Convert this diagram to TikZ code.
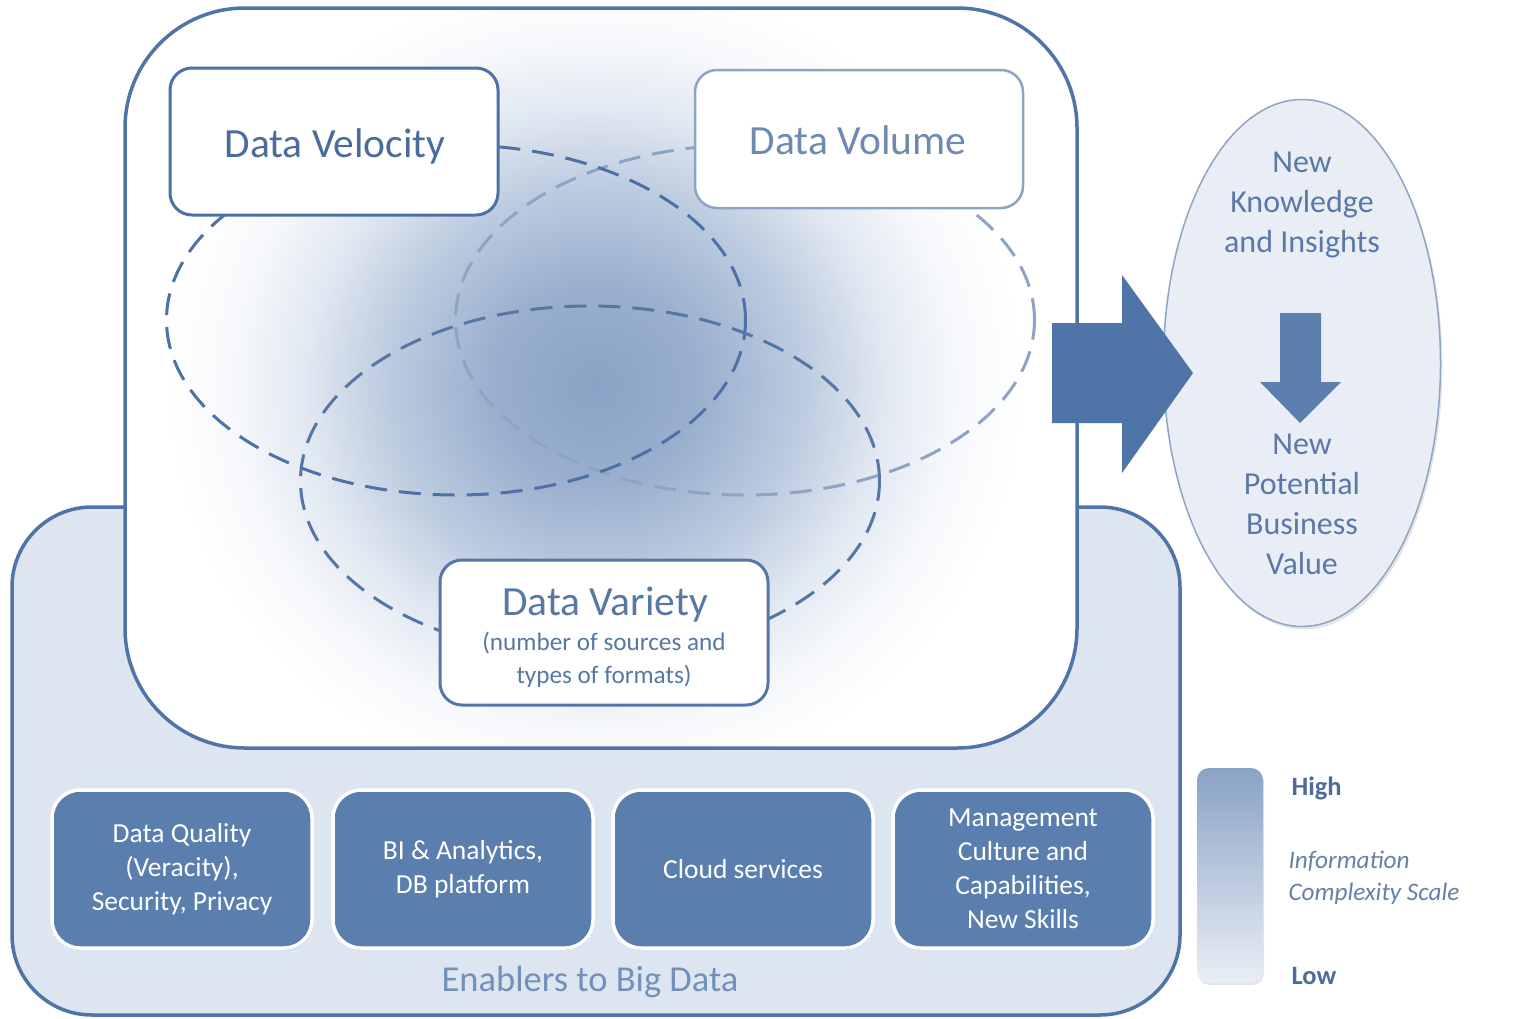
\documentclass[tikz,border=0pt]{standalone}
\usepackage{fontspec}
\setmainfont{Carlito}
\usetikzlibrary{shapes.geometric,shadows}
\definecolor{mainblue}{HTML}{4F74A8}
\definecolor{boxfill}{HTML}{5A7EAE}
\definecolor{enfill}{HTML}{DDE5F0}
\definecolor{ellfill}{HTML}{E9EEF6}
\definecolor{ellstroke}{HTML}{8EA5C6}
\definecolor{shc}{HTML}{8AA2C5}
\definecolor{shm}{HTML}{9AAFCE}
\definecolor{shl}{HTML}{BCCBDF}
\definecolor{shx}{HTML}{E2E9F2}
\definecolor{shy}{HTML}{F6F8FB}
\definecolor{veltext}{HTML}{4B6B9C}
\definecolor{voltext}{HTML}{6F89AF}
\definecolor{vartext}{HTML}{5877A3}
\definecolor{entext}{HTML}{7390B8}
\definecolor{newtext}{HTML}{5B79A6}
\definecolor{hightext}{HTML}{4D6C99}
\definecolor{infotext}{HTML}{6580A9}
\definecolor{velstroke}{HTML}{4D71A6}
\definecolor{volstroke}{HTML}{8DA4C5}
\definecolor{varstroke}{HTML}{5676A6}
\definecolor{scaletop}{HTML}{8AA2C5}
\definecolor{scalebot}{HTML}{EAEFF5}
\pgfdeclareradialshading{glow}{\pgfpoint{0bp}{0bp}}{color(0bp)=(shc); color(6bp)=(shm); color(12bp)=(shl); color(17bp)=(shx); color(21bp)=(shy); color(25bp)=(white); color(50bp)=(white)}
\begin{document}
\begin{tikzpicture}[x=1pt,y=-1pt,
  databox/.style={draw, fill=white, line width=3, rounded corners=22, minimum width=328, minimum height=145, inner sep=0},
  dataell/.style={ellipse, dashed, dash pattern=on 22pt off 12pt, line width=3, minimum width=579, minimum height=350, inner sep=0},
  enbox/.style={draw=white, line width=3.5, fill=boxfill, rounded corners=28, minimum width=260, minimum height=158, text=white, align=center, font=\fontsize{27.5}{34}\selectfont, drop shadow={opacity=0.25, shadow xshift=1pt, shadow yshift=-2pt}},
  bigtext/.style={font=\fontsize{41.5}{48}\selectfont, anchor=base},
  newstyle/.style={align=center, text=newtext, font=\fontsize{32}{40}\selectfont},
]
\useasboundingbox (0,0) rectangle (1517,1018);
\fill[white] (0,0) rectangle (1517,1018);

% enablers box
\node[draw=mainblue, line width=3.5, fill=enfill, rounded corners=80, minimum width=1168, minimum height=508, inner sep=0] (enablers) at (596,761) {};

% top box with glow
\fill[white, rounded corners=120] (125,8) rectangle (1077,748);
\begin{scope}
  \clip[rounded corners=120] (125,8) rectangle (1077,748);
  \shade[shading=glow] (595,385) ellipse [x radius=430, y radius=410];
\end{scope}
\node[draw=mainblue, line width=3.5, rounded corners=120, minimum width=952, minimum height=740, inner sep=0] (top) at (601,378) {};

% dashed ellipses
\node[dataell, draw=volstroke] (evol) at (745,320) {};
\node[dataell, draw=velstroke] (evel) at (456,320) {};
\node[dataell, draw=varstroke] (evar) at (590,481) {};

% data boxes
\node[databox, draw=velstroke, minimum height=147] (vel) at (334,141.5) {};
\node[bigtext, text=veltext] (veltxt) at (335,157) {Data Velocity};
\node[databox, draw=volstroke, line width=2.5, minimum height=138] (vol) at (859,139) {};
\node[bigtext, text=voltext] (voltxt) at (858,154) {Data Volume};
\node[databox, draw=varstroke] (var) at (604,632.5) {};
\node[bigtext, text=vartext] (vartxt) at (605,615) {Data Variety};
\node[anchor=base, text=vartext, font=\fontsize{25.2}{33}\selectfont] (varsub) at (604,650) {(number of sources and};
\node[anchor=base, text=vartext, font=\fontsize{25.2}{33}\selectfont] (varsub2) at (604,683) {types of formats)};

% enabler boxes
\node[enbox] (b1) at (182,869) {Data Quality\\(Veracity),\\Security, Privacy};
\node[enbox] (b2) at (463,869) {BI \& Analytics,\\DB platform};
\node[enbox] (b3) at (743,869) {Cloud services};
\node[enbox] (b4) at (1023,869) {Management\\Culture and\\Capabilities,\\New Skills};
\node[text=entext, font=\fontsize{36.5}{42}\selectfont] (entxt) at (590,982) {Enablers to Big Data};

% outcome ellipse
\node[ellipse, draw=ellstroke, line width=1.5, fill=ellfill, minimum width=277, minimum height=527, inner sep=0, drop shadow={opacity=0.2, shadow xshift=2pt, shadow yshift=-3pt}] (out) at (1302,363) {};
\node[newstyle] (know) at (1302,205) {New\\Knowledge\\and Insights};
\node[newstyle] (pot) at (1302,504) {New\\Potential\\Business\\Value};

% big arrow
\fill[mainblue] (1052,323) -- (1122,323) -- (1122,275) -- (1193,373) -- (1122,473) -- (1122,423) -- (1052,423) -- cycle;
% down arrow
\fill[mainblue!92!white] (1280,313) -- (1321,313) -- (1321,382) -- (1341,382) -- (1300,423) -- (1260,382) -- (1280,382) -- cycle;

% scale
\node[rounded corners=12, minimum width=66, minimum height=215, inner sep=0, top color=scaletop, bottom color=scalebot, drop shadow={opacity=0.2, shadow xshift=1pt, shadow yshift=-2pt}] (scale) at (1230,875.5) {};
\node[anchor=west, text=hightext, font=\fontsize{26.5}{30}\selectfont\bfseries] (high) at (1288,788) {High};
\node[anchor=west, text=infotext, align=left, font=\fontsize{25.2}{32}\selectfont\itshape] (info) at (1285,878) {Information\\Complexity Scale};
\node[anchor=west, text=hightext, font=\fontsize{26.5}{30}\selectfont\bfseries] (low) at (1288,976) {Low};
\end{tikzpicture}
\end{document}
